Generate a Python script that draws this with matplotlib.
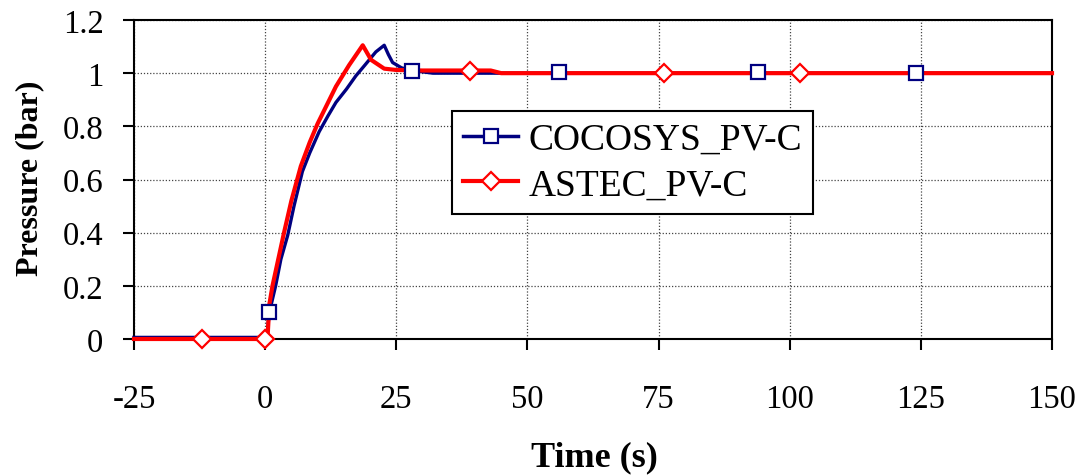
# Pressure vs time: COCOSYS and ASTEC results for PV-C
import matplotlib
matplotlib.use("Agg")
import matplotlib.pyplot as plt
from matplotlib.lines import Line2D

plt.rcParams['font.family'] = ['Liberation Serif', 'DejaVu Serif']
plt.rcParams['axes.unicode_minus'] = False

# COCOSYS_PV-C curve
cocosys_t = [-25, 0.3, 0.8, 2.0, 3.0, 4.3, 5.5, 7.1, 8.5, 10.3, 12.0, 13.5, 15.5,
             17.3, 19.0, 21.1, 22.7, 23.5, 24.3, 26.0, 28.0, 32.0, 150]
cocosys_p = [0.006, 0.006, 0.1, 0.2, 0.3, 0.39, 0.5, 0.63, 0.7, 0.78, 0.84, 0.89, 0.94,
             0.99, 1.03, 1.08, 1.105, 1.07, 1.04, 1.02, 1.01, 1.0, 1.0]
cocosys_mark_t = [0.8, 28, 56, 94, 124]
cocosys_mark_p = [0.1, 1.01, 1.005, 1.003, 1.002]

# ASTEC_PV-C curve
astec_t = [-25, 0, 0.5, 0.8, 1.4, 2.5, 3.6, 5.0, 6.8, 8.5, 10.0, 12.0, 13.5, 16.0,
           18.6, 20.2, 22.7, 25.0, 30.0, 43.0, 45.0, 150]
astec_p = [0, 0, 0.02, 0.13, 0.2, 0.3, 0.4, 0.52, 0.65, 0.74, 0.81, 0.89, 0.95, 1.03,
           1.105, 1.05, 1.017, 1.012, 1.01, 1.01, 1.0, 1.0]
astec_mark_t = [-12, 0, 39, 76, 102]
astec_mark_p = [0, 0, 1.01, 1.0, 1.0]

x_ticks = [-25, 0, 25, 50, 75, 100, 125, 150]
y_ticks = [0, 0.2, 0.4, 0.6, 0.8, 1.0, 1.2]
y_labels = ['0', '0.2', '0.4', '0.6', '0.8', '1', '1.2']

blue = '#000080'
red = '#FF0000'

fig = plt.figure(figsize=(10.86, 4.77), dpi=100)
ax = fig.add_axes([134 / 1086, 1 - 340 / 477, (1052 - 134) / 1086, (340 - 21) / 477])

# Lines first, markers on top
ax.plot(cocosys_t, cocosys_p, color=blue, lw=2.4, zorder=3, clip_on=False)
ax.plot(astec_t, astec_p, color=red, lw=3.0, zorder=4, clip_on=False)
ax.plot(cocosys_mark_t, cocosys_mark_p, ls='none', marker='s', ms=10, mfc='white',
        mec=blue, mew=1.6, zorder=5, clip_on=False)
ax.plot(astec_mark_t, astec_mark_p, ls='none', marker='D', ms=9, mfc='white',
        mec=red, mew=1.6, zorder=6, clip_on=False)

ax.set_xlim(-25, 150)
ax.set_ylim(0, 1.2)
ax.set_xticks(x_ticks)
ax.set_yticks(y_ticks)
ax.set_yticklabels(y_labels)
ax.tick_params(axis='both', direction='out', length=8, width=1.5, labelsize=23.5)
ax.tick_params(axis='x', pad=24)
ax.tick_params(axis='y', pad=14)
ax.grid(True, color='#444444', ls=(0, (1, 1.5)), lw=0.9)
ax.set_axisbelow(True)
for sp in ax.spines.values():
    sp.set_linewidth(1.5)
    sp.set_color('black')

fig.text(594 / 1086, 1 - 458 / 477, 'Time (s)', fontsize=26, fontweight='bold',
         ha='center', va='center')
fig.text(30 / 1086, 1 - 178 / 477, 'Pressure (bar)', fontsize=23, fontweight='bold',
         ha='center', va='center', rotation=90)

handles = [
    Line2D([], [], color=blue, lw=2.5, marker='s', ms=10, mfc='white', mec=blue, mew=1.6),
    Line2D([], [], color=red, lw=3.0, marker='D', ms=9, mfc='white', mec=red, mew=1.6),
]
leg = ax.legend(handles, ['COCOSYS_PV-C', 'ASTEC_PV-C'], loc='upper left',
                bbox_to_anchor=(452 / 1086, 1 - 112 / 477), bbox_transform=fig.transFigure,
                fontsize=27, frameon=True, fancybox=False, framealpha=1,
                edgecolor='black', handlelength=1.47, handletextpad=0.27,
                borderpad=0.3, labelspacing=0.3, borderaxespad=0)
leg.get_frame().set_linewidth(1.5)

fig.savefig('out.png', dpi=100)
